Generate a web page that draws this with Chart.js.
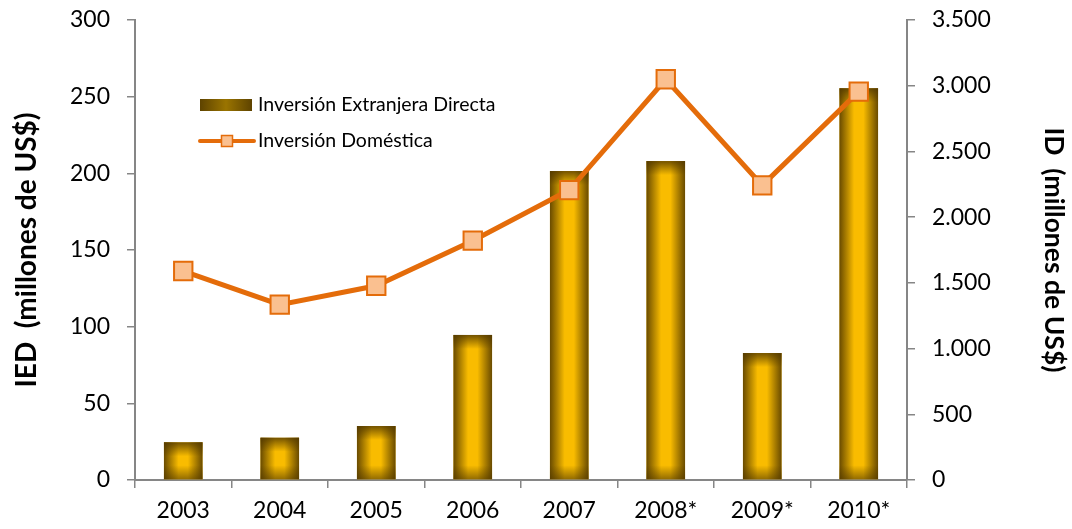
<!DOCTYPE html>
<html>
<head>
<meta charset="utf-8">
<script src="https://cdn.jsdelivr.net/npm/chart.js@4/dist/chart.umd.min.js"></script>
<style>
  html, body { margin: 0; padding: 0; background: #fff; }
  #wrap { width: 1072px; height: 529px; position: relative; }
</style>
</head>
<body>
<div id="wrap"><canvas id="iedChart"></canvas></div>
<script>
const years = ["2003", "2004", "2005", "2006", "2007", "2008*", "2009*", "2010*"];
const iedValues = [24.6, 27.6, 35.2, 94.6, 201.5, 208, 82.8, 255.5]; // millones de US$
const idValues = [1590, 1334, 1478, 1821, 2206, 3049, 2242, 2955]; // millones de US$
const leftTicks = [0, 50, 100, 150, 200, 250, 300];
const rightTicks = [0, 500, 1000, 1500, 2000, 2500, 3000, 3500];

const axisGrey = "#868686";
const orange = "#E46C0A";
const font = "Lato, 'Open Sans', sans-serif";

// thousands with a dot, like 3.500
const fmtES = (v) => String(v).replace(/\B(?=(\d{3})+(?!\d))/g, ".");

// darken bar edges like the excel path gradient
const barShade = {
  id: "barShade",
  afterDatasetDraw(chart, args) {
    if (args.index !== 0) return;
    const ctx = chart.ctx;
    args.meta.data.forEach((bar) => {
      const x0 = bar.x - bar.width / 2;
      const top = Math.min(bar.y, bar.base);
      const h = Math.abs(bar.base - bar.y);
      ctx.save();
      let g = ctx.createLinearGradient(x0, 0, x0 + bar.width, 0);
      g.addColorStop(0, "rgba(80,55,0,0.85)");
      g.addColorStop(0.38, "rgba(80,55,0,0)");
      g.addColorStop(0.62, "rgba(80,55,0,0)");
      g.addColorStop(1, "rgba(80,55,0,0.85)");
      ctx.fillStyle = g;
      ctx.fillRect(x0, top, bar.width, h);
      const edge = Math.min(14, h / 2);
      g = ctx.createLinearGradient(0, top, 0, top + edge);
      g.addColorStop(0, "rgba(80,55,0,0.8)");
      g.addColorStop(1, "rgba(80,55,0,0)");
      ctx.fillStyle = g;
      ctx.fillRect(x0, top, bar.width, edge);
      g = ctx.createLinearGradient(0, top + h - edge, 0, top + h);
      g.addColorStop(0, "rgba(80,55,0,0)");
      g.addColorStop(1, "rgba(80,55,0,0.6)");
      ctx.fillStyle = g;
      ctx.fillRect(x0, top + h - edge, bar.width, edge);
      ctx.restore();
    });
  },
};

// legend sits inside the plot, excel style
const insideLegend = {
  id: "insideLegend",
  afterDraw(chart) {
    const ctx = chart.ctx;
    ctx.save();
    const sx = 200, sw = 52;
    // bar swatch
    let g = ctx.createLinearGradient(sx, 0, sx + sw, 0);
    g.addColorStop(0, "#5e4300");
    g.addColorStop(0.5, "#9a7400");
    g.addColorStop(1, "#5e4300");
    ctx.fillStyle = g;
    ctx.fillRect(sx, 99, sw, 12);
    // line swatch
    ctx.strokeStyle = orange;
    ctx.lineWidth = 4;
    ctx.lineCap = "round";
    ctx.beginPath();
    ctx.moveTo(sx, 141);
    ctx.lineTo(sx + 54, 141);
    ctx.stroke();
    ctx.fillStyle = "#FAC090";
    ctx.lineWidth = 1.5;
    ctx.fillRect(221.5, 135.5, 11, 11);
    ctx.strokeRect(221.5, 135.5, 11, 11);
    ctx.fillStyle = "#000";
    ctx.font = "19.5px " + font;
    ctx.textBaseline = "middle";
    ctx.fillText("Inversión Extranjera Directa", 258, 105);
    ctx.fillText("Inversión Doméstica", 258, 141);
    ctx.restore();
  },
};

// keep the plot top at the excel position, tick padding would push it down
const fitY = (w) => (s) => {
  s.width = w;
  s.paddingTop = 20;
};

new Chart(document.getElementById("iedChart"), {
  data: {
    labels: years,
    datasets: [
      {
        type: "bar",
        label: "Inversión Extranjera Directa",
        data: iedValues,
        yAxisID: "y",
        backgroundColor: "#F9BC00",
        borderWidth: 0,
        barPercentage: 0.4,
        categoryPercentage: 1,
        order: 1,
      },
      {
        type: "line",
        label: "Inversión Doméstica",
        data: idValues,
        yAxisID: "y1",
        borderColor: orange,
        borderWidth: 5,
        pointStyle: "rect",
        pointRadius: 13,
        pointBorderWidth: 2,
        pointBackgroundColor: "#FAC090",
        pointBorderColor: orange,
        tension: 0,
        clip: false,
        order: 0,
      },
    ],
  },
  options: {
    responsive: true,
    maintainAspectRatio: false,
    animation: false,
    layout: { autoPadding: false, padding: 0 },
    plugins: {
      legend: { display: false },
      tooltip: { enabled: false },
    },
    scales: {
      x: {
        grid: { offset: true, drawOnChartArea: false, color: axisGrey, lineWidth: 1.5, tickLength: 8 },
        border: { color: axisGrey, width: 2 },
        ticks: { color: "#000", font: { family: font, size: 23 }, padding: 9, maxRotation: 0 },
        afterFit: (s) => { s.height = 49; },
      },
      y: {
        position: "left",
        min: 0,
        max: 300,
        afterBuildTicks: (s) => { s.ticks = leftTicks.map((v) => ({ value: v })); },
        grid: { drawOnChartArea: false, color: axisGrey, lineWidth: 1.5, tickLength: 8 },
        border: { color: axisGrey, width: 2 },
        ticks: { color: "#000", font: { family: font, size: 23 }, padding: 17 },
        title: {
          display: true,
          text: "IED  (millones de US$)",
          color: "#000",
          font: { family: font, size: 28, weight: "bold" },
          padding: { top: 10, bottom: 0 },
        },
        afterFit: fitY(135),
      },
      y1: {
        position: "right",
        min: 0,
        max: 3500,
        afterBuildTicks: (s) => { s.ticks = rightTicks.map((v) => ({ value: v })); },
        grid: { drawOnChartArea: false, color: axisGrey, lineWidth: 1.5, tickLength: 8 },
        border: { color: axisGrey, width: 2 },
        ticks: { color: "#000", font: { family: font, size: 23 }, padding: 17, callback: (v) => fmtES(v) },
        title: {
          display: true,
          text: "ID  (millones de US$)",
          color: "#000",
          font: { family: font, size: 26.5, weight: "bold" },
          padding: { top: 3, bottom: 0 },
        },
        afterFit: fitY(165),
      },
    },
  },
  plugins: [barShade, insideLegend],
});
</script>
</body>
</html>
